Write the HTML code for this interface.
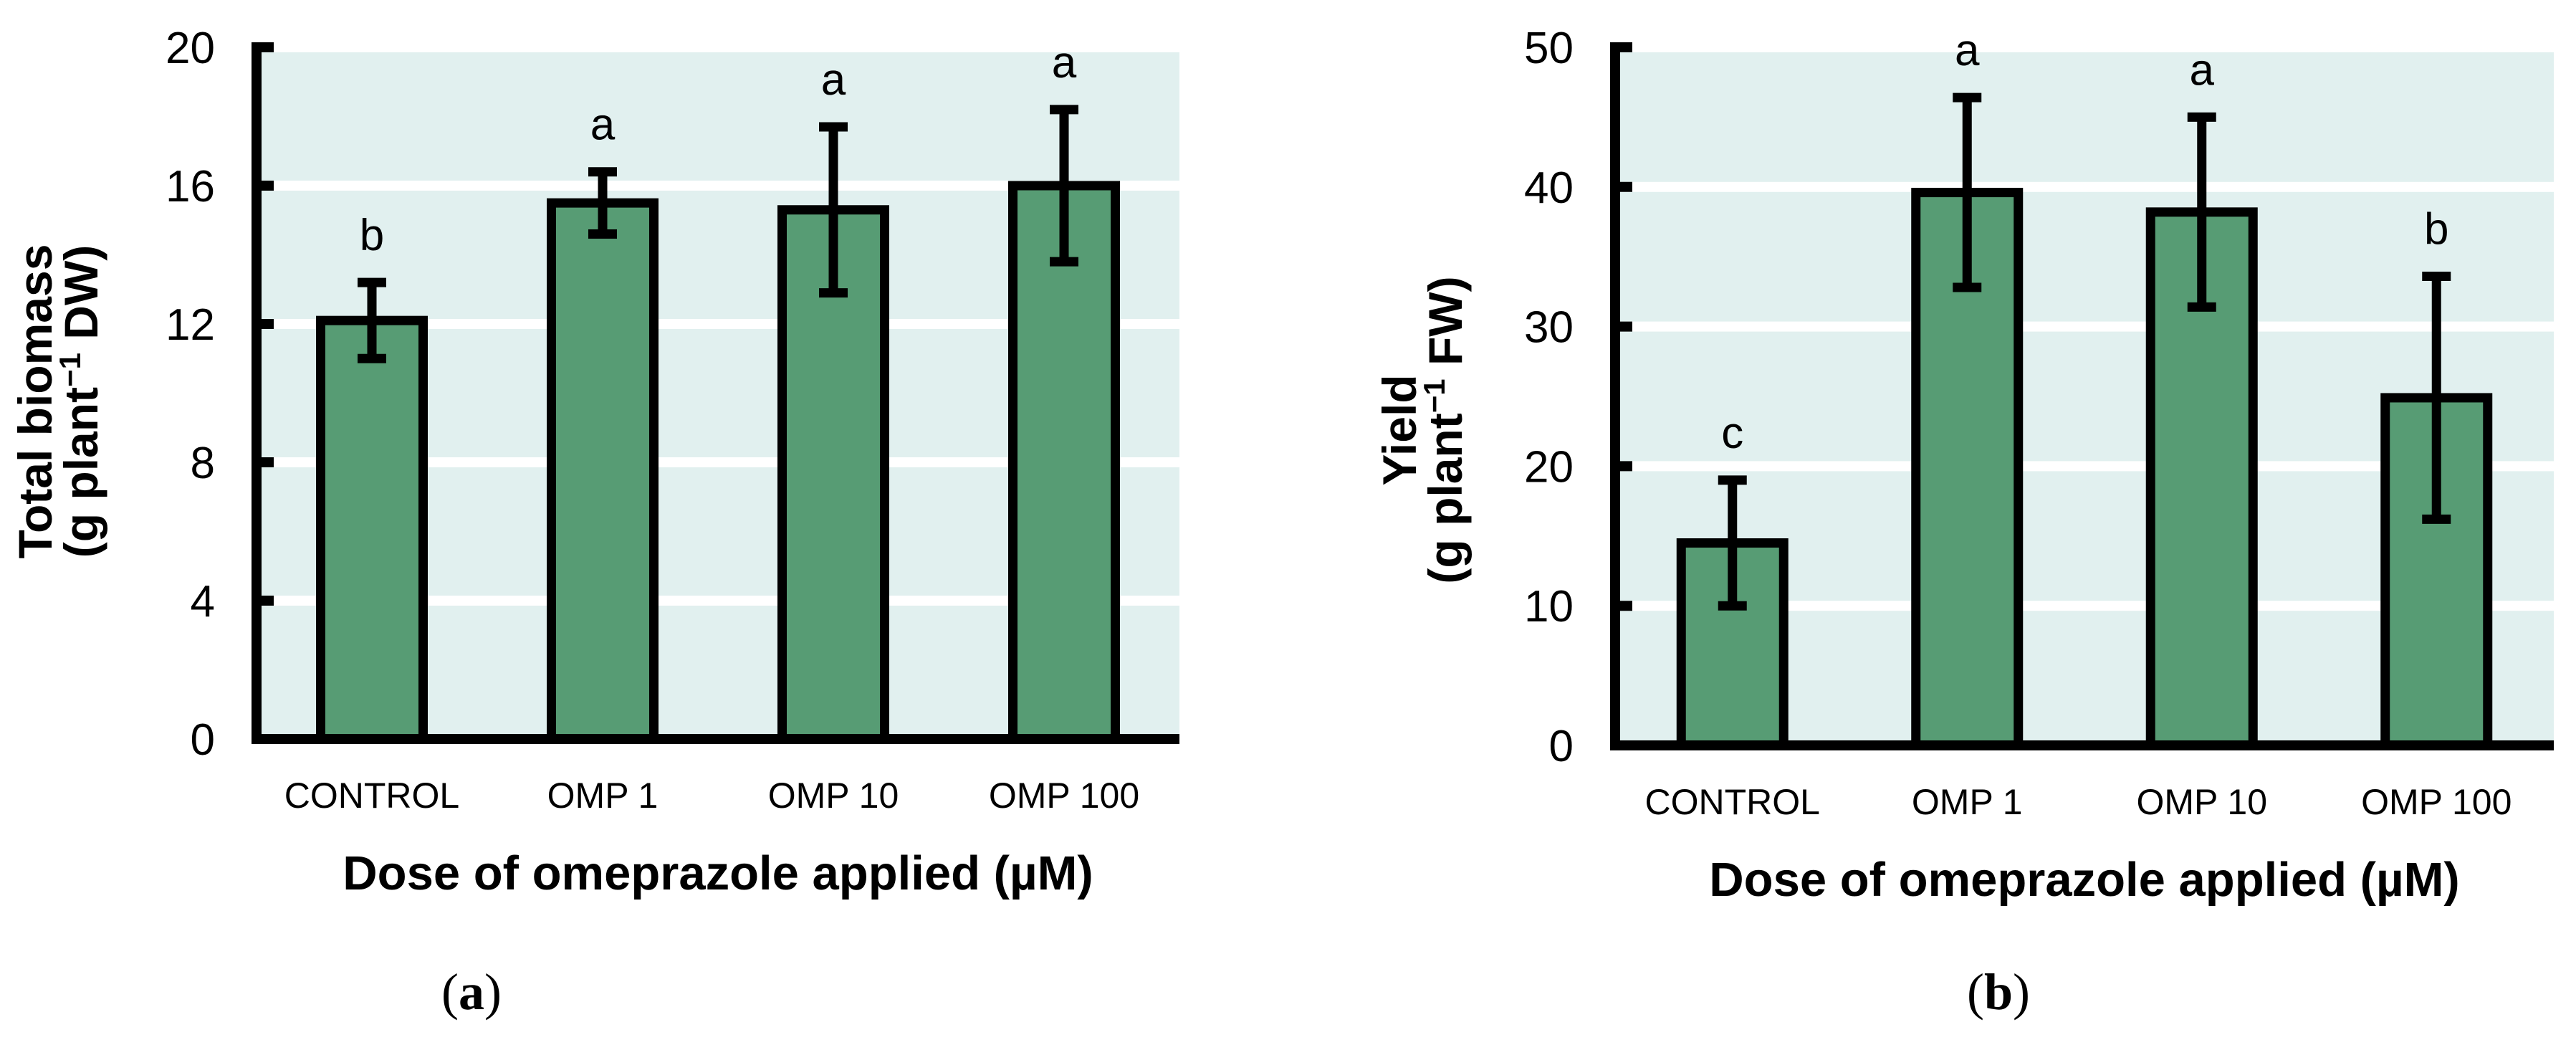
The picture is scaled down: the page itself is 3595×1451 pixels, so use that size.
<!DOCTYPE html>
<html><head><meta charset="utf-8"><style>
html,body{margin:0;padding:0;background:#fff;}
svg{display:block;font-family:"Liberation Sans",sans-serif;}
</style></head><body>
<svg id="fig" width="3595" height="1451" viewBox="0 0 3595 1451" xmlns="http://www.w3.org/2000/svg"></svg>
<script>
const categories = ["CONTROL","OMP 1","OMP 10","OMP 100"];
const biomassValues = [12.1, 15.5, 15.3, 16.0];
const biomassErrors = [1.1, 0.9, 2.4, 2.2];
const biomassLetters = ["b","a","a","a"];
const biomassTicks = [0,4,8,12,16,20];
const yieldValues = [14.5, 39.6, 38.2, 24.9];
const yieldErrors = [4.5, 6.8, 6.8, 8.7];
const yieldLetters = ["c","a","a","b"];
const yieldTicks = [0,10,20,30,40,50];

const NS = "http://www.w3.org/2000/svg";
const svg = document.getElementById("fig");
function mk(tag, attrs, parent, text){
  const e = document.createElementNS(NS, tag);
  for (const k in attrs) e.setAttribute(k, attrs[k]);
  if (text !== undefined) e.textContent = text;
  (parent||svg).appendChild(e);
  return e;
}

function drawChart(cfg){
  const g = mk("g", {});
  
  
  const x0 = cfg.x0, x1 = cfg.x1, yTop = cfg.yTop, yZero = cfg.yZero;
  const maxV = cfg.ticks[cfg.ticks.length-1];
  const yScale = v => yZero - (v / maxV) * (yZero - yTop);
  const band = (x1 - x0) / cfg.cats.length;
  const xScale = i => x0 + band * (i + 0.5);

  const bg = mk("rect", {x:x0, y:yTop+7, width:x1-x0, height:yZero-yTop-7, fill:"#e1f0ef"}, g);
  
  
  cfg.ticks.forEach((t, i) => {
    if (t === 0 || i === cfg.ticks.length-1) return;
    const gl = mk("rect", {x:x0, y:yScale(t)-7, width:x1-x0, height:14, fill:"#fff"}, g);
    
    
  });
  cfg.ticks.forEach(t => {
    const tk = mk("line", {x1:x0, x2:x0+24, y1:yScale(t), y2:yScale(t), stroke:"#000", "stroke-width":14}, g);
    
    
    const tl = mk("text", {x:x0-58, y:yScale(t)+22, "text-anchor":"end", "font-size":62, fill:"#000"}, g, String(t));
    
    
  });
  const bw = 143;
  cfg.cats.forEach((c, i) => {
    const cx = xScale(i), v = cfg.vals[i], e = cfg.errs[i];
    const bar = mk("rect", {x:cx-bw/2, y:yScale(v), width:bw, height:yZero-yScale(v), fill:"#579c74", stroke:"#000", "stroke-width":13}, g);
    
    
    const hi = yScale(v+e), lo = yScale(v-e);
    const eb = mk("path", {d:`M${cx},${hi}V${lo}M${cx-20},${hi}H${cx+20}M${cx-20},${lo}H${cx+20}`, stroke:"#000", "stroke-width":13, fill:"none"}, g);
    
    
    const lt = mk("text", {x:cx, y:hi-45, "text-anchor":"middle", "font-size":62, fill:"#000"}, g, cfg.letters[i]);
    
    
    const cl = mk("text", {x:cx, y:yZero+96, "text-anchor":"middle", "font-size":50, fill:"#000"}, g, c);
    
    
  });
  const ax = mk("path", {d:`M${x0},${yTop-7}V${yZero}H${x1}`, stroke:"#000", "stroke-width":14, fill:"none"}, g);
  
  
  const xt = mk("text", {x:(x0+x1)/2, y:yZero+210, "text-anchor":"middle", "font-size":67, "font-weight":"bold", fill:"#000"}, g, "Dose of omeprazole applied (\u00b5M)");
  
  
  const yt = mk("text", {transform:`translate(${cfg.ytx},${cfg.yty}) rotate(-90)`, "text-anchor":"middle", "font-size":66, "font-weight":"bold", fill:"#000"}, g);
  
  
  mk("tspan", {x:0, y:0}, yt, cfg.yt1);
  mk("tspan", {x:0, y:64}, yt, "(g plant");
  mk("tspan", {dy:-24, "font-size":42}, yt, "\u22121");
  mk("tspan", {dy:24}, yt, " " + cfg.yt2 + ")");
  const pl = mk("text", {x:cfg.px, y:1408, "text-anchor":"middle", "font-size":72, fill:"#000", "font-family":"Liberation Serif, serif"}, g);
  
  
  mk("tspan", {}, pl, "(");
  mk("tspan", {"font-weight":"bold"}, pl, cfg.panel);
  mk("tspan", {}, pl, ")");
}

drawChart({name:"chart-total-biomass", x0:358, x1:1646, yTop:66, yZero:1031, ticks:biomassTicks, cats:categories,
  vals:biomassValues, errs:biomassErrors, letters:biomassLetters, yt1:"Total biomass", yt2:"DW", ytx:72, yty:560, px:658, panel:"a"});
drawChart({name:"chart-yield", x0:2254, x1:3564, yTop:66, yZero:1040, ticks:yieldTicks, cats:categories,
  vals:yieldValues, errs:yieldErrors, letters:yieldLetters, yt1:"Yield", yt2:"FW", ytx:1976, yty:600, px:2789, panel:"b"});
</script>
</body></html>
